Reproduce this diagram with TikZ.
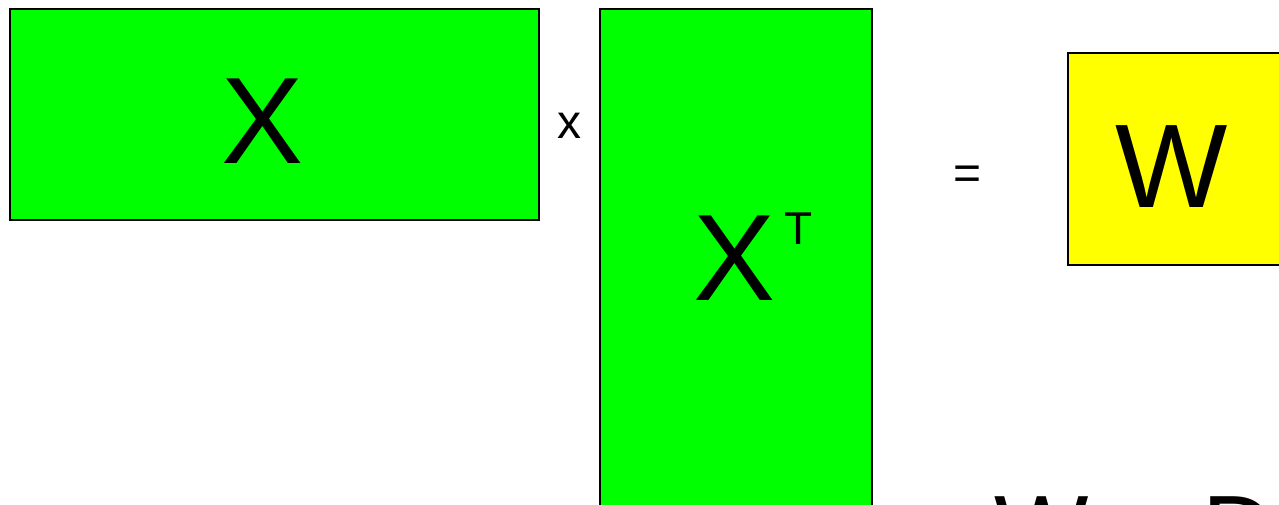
\documentclass[tikz,border=0pt]{standalone}
\usepackage{fontspec}
\setmainfont{Liberation Sans}
\definecolor{mgreen}{HTML}{00FF00}
\definecolor{myellow}{HTML}{FFFF00}
\begin{document}
\begin{tikzpicture}[x=1pt,y=-1pt,
  mat/.style={draw=black,line width=1.5pt,rectangle,inner sep=0pt,anchor=north west},
  lbl/.style={inner sep=0pt,anchor=base,text=black}]
\clip (0,0) rectangle (1279,504);
\fill[white] (0,0) rectangle (1279,504);
\node[mat,fill=mgreen,minimum width=529pt,minimum height=211pt] (bx) at (9,8) {};
\node[mat,fill=mgreen,minimum width=272pt,minimum height=530pt] (bxt) at (599,8) {};
\node[mat,fill=myellow,minimum width=240pt,minimum height=212pt] (bw) at (1067,52) {};
\node[lbl,font=\fontsize{123}{140}\selectfont] (tx) at (263,163) {X};
\node[lbl,font=\fontsize{48}{56}\selectfont] (times) at (569,138) {x};
\node[lbl,font=\fontsize{123}{140}\selectfont] (txt) at (735,300) {X};
\node[lbl,font=\fontsize{46}{54}\selectfont] (tt) at (799,244) {T};
\node[lbl,font=\fontsize{48}{56}\selectfont] (eq) at (968,189) {=};
\node[lbl,font=\fontsize{119}{136}\selectfont] (tw) at (1172,207) {W};
\node[inner sep=0pt,anchor=base west,font=\fontsize{100}{120}\selectfont] (form) at (994,565) {W = D};
\end{tikzpicture}
\end{document}
